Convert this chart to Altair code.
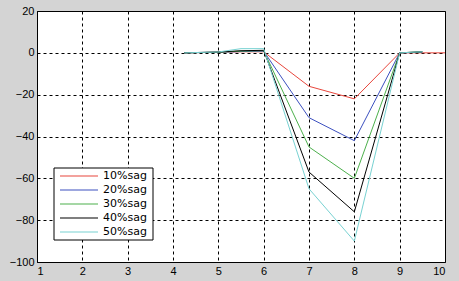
import altair as alt
import pandas as pd

series = ["10%sag", "20%sag", "30%sag", "40%sag", "50%sag"]
colors = ["#e8463c", "#3c50c0", "#4cb04c", "#000000", "#78d2d2"]

x_common = [4.25, 5, 5.5, 6, 7, 8, 9, 9.5]
x_red = [4.25, 5, 5.5, 6, 7, 8, 9, 9.5, 10]
v_10 = [0, 0.3, 0.5, 0.5, -16, -22, 0, 0, 0]
v_20 = [0, 0.3, 0.6, 0.8, -31, -42, 0, 0.3]
v_30 = [0, 0.3, 0.8, 1.0, -45, -60, 0, 0.5]
v_40 = [0, 0.4, 1.0, 1.2, -57, -76, 0, 0.5]
v_50 = [0, 0.4, 2.0, 2.0, -65, -90, 0, 0.5]

rows = []
for name, xs, vs in [
    ("10%sag", x_red, v_10),
    ("20%sag", x_common, v_20),
    ("30%sag", x_common, v_30),
    ("40%sag", x_common, v_40),
    ("50%sag", x_common, v_50),
]:
    for i, (x, v) in enumerate(zip(xs, vs)):
        rows.append({"series": name, "x": x, "y": v, "order": i})
df = pd.DataFrame(rows)

leg = pd.DataFrame({"series": series, "idx": list(range(len(series)))})

color_scale = alt.Scale(domain=series, range=colors)

lines = alt.Chart(df).mark_line(strokeWidth=1, clip=True).encode(
    x=alt.X("x:Q", scale=alt.Scale(domain=[1, 10], nice=False, zero=False),
            axis=alt.Axis(values=list(range(1, 11)), title=None, format="d")),
    y=alt.Y("y:Q", scale=alt.Scale(domain=[-100, 20], nice=False, zero=False),
            axis=alt.Axis(values=list(range(-100, 21, 20)), title=None, format="d")),
    color=alt.Color("series:N", scale=color_scale, legend=None),
    detail="series:N",
    order="order:Q",
)

leg_y = alt.Y("idx:Q", scale=alt.Scale(domain=[0, 4], range=[165, 221]), axis=None)

leg_box = alt.Chart(leg).mark_rect(fill="white", stroke="#000", strokeWidth=1).encode(
    x=alt.value(17), x2=alt.value(116), y=alt.value(157), y2=alt.value(229)
).transform_filter("datum.idx == 0")

leg_lines = alt.Chart(leg).mark_rule(strokeWidth=1.2).encode(
    x=alt.value(23), x2=alt.value(61), y=leg_y,
    color=alt.Color("series:N", scale=color_scale, legend=None),
)

leg_text = alt.Chart(leg).mark_text(align="right", baseline="middle", fontSize=11,
                                    font="DejaVu Sans", color="#000").encode(
    x=alt.value(110), y=leg_y, text="series:N",
)

legend_layer = alt.layer(leg_box, leg_lines, leg_text)

chart = alt.layer(lines, legend_layer).resolve_scale(y="independent").properties(
    width=408, height=251,
    padding={"left": 37, "top": 11, "right": 14, "bottom": 19},
    autosize=alt.AutoSizeParams(type="none"),
    background="#d4d4d4",
).configure_view(
    fill="white", stroke="#000", strokeWidth=1,
).configure_axis(
    grid=True, gridColor="#000", gridDash=[3, 3], gridOpacity=1, gridWidth=1,
    domain=True, domainColor="#000", ticks=False,
    labelFont="Liberation Sans", labelFontSize=11, labelColor="#000",
    labelPadding=3,
)

chart.save("out.html", embed_options={"renderer": "svg", "actions": False})
